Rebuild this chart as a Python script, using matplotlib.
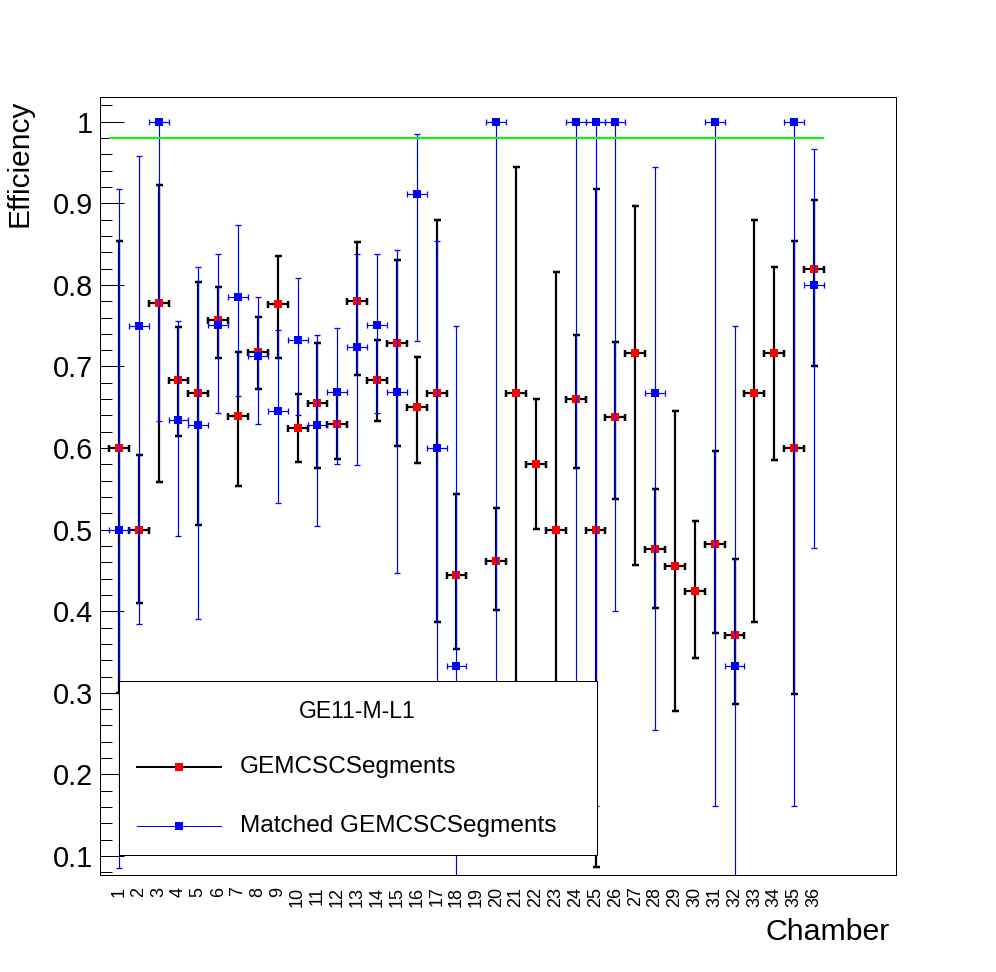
import numpy as np
import matplotlib
matplotlib.use("Agg")
import matplotlib.pyplot as plt
from matplotlib.ticker import MultipleLocator, FixedLocator, FuncFormatter
from matplotlib.patches import Rectangle

plt.rcParams['font.family'] = ['Liberation Sans', 'DejaVu Sans']

# ---------------- data ----------------
chambers = list(range(1, 37))
tick_labels = [str(c) for c in chambers]

nan = np.nan
# GEMCSCSegments (black bars, red markers)
seg_eff = [0.600, 0.500, 0.778, 0.684, 0.667, 0.757, 0.639, 0.718, 0.777, 0.625,
           0.655, 0.630, 0.780, 0.684, 0.729, 0.650, 0.667, 0.444, nan, 0.462,
           0.667, 0.580, 0.500, 0.660, 0.500, 0.638, 0.716, 0.476, 0.455, 0.425,
           0.483, 0.371, 0.667, 0.716, 0.600, 0.820]
seg_up = [0.854, 0.592, 0.922, 0.748, 0.804, 0.797, 0.718, 0.761, 0.835, 0.666,
          0.729, 0.666, 0.852, 0.732, 0.831, 0.711, 0.880, 0.544, nan, 0.527,
          0.945, 0.660, 0.816, 0.739, 0.918, 0.730, 0.897, 0.550, 0.646, 0.510,
          0.597, 0.464, 0.880, 0.822, 0.854, 0.904]
seg_lo = [0.300, 0.410, 0.559, 0.615, 0.506, 0.710, 0.553, 0.672, 0.710, 0.583,
          0.575, 0.587, 0.689, 0.633, 0.602, 0.582, 0.387, 0.354, nan, 0.401,
          0.250, 0.501, 0.184, 0.575, 0.086, 0.537, 0.457, 0.404, 0.278, 0.343,
          0.373, 0.286, 0.387, 0.585, 0.299, 0.700]

# Matched GEMCSCSegments (blue)
match_eff = [0.500, 0.750, 1.000, 0.634, 0.628, 0.751, 0.785, 0.713, 0.645, 0.732,
             0.628, 0.669, 0.724, 0.751, 0.669, 0.911, 0.600, 0.333, nan, 1.000,
             nan, nan, nan, 1.000, 1.000, 1.000, nan, 0.667, nan, nan,
             1.000, 0.333, nan, nan, 1.000, 0.800]
match_up = [0.917, 0.958, 1.000, 0.756, 0.822, 0.838, 0.873, 0.785, 0.745, 0.808,
            0.738, 0.747, 0.838, 0.838, 0.843, 0.985, 0.854, 0.749, nan, 1.000,
            nan, nan, nan, 1.000, 1.000, 1.000, nan, 0.944, nan, nan,
            1.000, 0.749, nan, nan, 1.000, 0.967]
match_lo = [0.085, 0.384, 0.633, 0.492, 0.391, 0.643, 0.664, 0.629, 0.533, 0.640,
            0.504, 0.580, 0.579, 0.643, 0.447, 0.731, 0.300, 0.060, nan, 0.161,
            nan, nan, nan, 0.161, 0.161, 0.400, nan, 0.254, nan, nan,
            0.161, 0.060, nan, nan, 0.161, 0.477]

target = 0.98
legend_title = "GE11-M-L1"
series_labels = ["GEMCSCSegments", "Matched GEMCSCSegments"]

# ---------------- figure ----------------
W, H = 996, 972
fig = plt.figure(figsize=(W / 100, H / 100), dpi=100)
ax = fig.add_axes([0.1, 0.1, 0.8, 0.8])

x = np.array(chambers, dtype=float)
se = np.array(seg_eff); su = np.array(seg_up); sl = np.array(seg_lo)
me = np.array(match_eff); mu = np.array(match_up); ml = np.array(match_lo)

px = 0.72  # points per pixel

# GEMCSCSegments: black error bars, red squares
ax.errorbar(x, se, yerr=[se - sl, su - se], xerr=0.5, fmt='none',
            ecolor='black', elinewidth=2.2 * px, capsize=3.5 * px,
            capthick=2.5 * px, zorder=2)
ax.plot(x, se, 's', ms=8 * px, mfc='red', mec='red', mew=0, zorder=2.5)
# Matched: blue error bars, blue squares
ax.errorbar(x, me, yerr=[me - ml, mu - me], xerr=0.5, fmt='none',
            ecolor='blue', elinewidth=1.2 * px, capsize=2.8 * px,
            capthick=1.3 * px, zorder=3)
ax.plot(x, me, 's', ms=8 * px, mfc='blue', mec='blue', mew=0, zorder=3.5)

ax.hlines(target, 0.5, 36.5, color='#00ff00', lw=2 * px, zorder=5)

ax.set_xlim(0.03, 40.15)
ax.set_ylim(0.077, 1.030)

ax.xaxis.set_major_locator(FixedLocator(chambers))
ax.set_xticklabels(tick_labels, rotation=90, fontsize=13)
ax.tick_params(axis='x', length=0, pad=8.5)

ax.yaxis.set_major_locator(MultipleLocator(0.1))
ax.yaxis.set_minor_locator(MultipleLocator(0.02))
ax.yaxis.set_major_formatter(FuncFormatter(lambda v, p: f"{round(v, 2):g}"))
ax.tick_params(axis='y', which='major', direction='in', length=24 * px,
               width=1 * px, labelsize=20.8, pad=4.7, right=False)
ax.tick_params(axis='y', which='minor', direction='in', length=12 * px,
               width=1 * px, right=False)
for s in ax.spines.values():
    s.set_linewidth(1 * px)


def fpx(xp, yp):
    return xp / W, 1 - yp / H


# axis titles
fig.text(*fpx(28, 100), "Efficiency", rotation=90, rotation_mode='anchor',
         ha='right', va='baseline', fontsize=21.5)
fig.text(*fpx(890, 940), "Chamber", ha='right', va='baseline', fontsize=21.8)

# legend (drawn manually to match the ROOT layout)
lx0, ly0 = fpx(119.3, 855)
lx1, ly1 = fpx(597.3, 680.7)
ax.add_patch(Rectangle((lx0, ly0), lx1 - lx0, ly1 - ly0, transform=fig.transFigure,
                       facecolor='white', edgecolor='black', lw=1 * px,
                       zorder=10, clip_on=False))
ax.text(*fpx(357.5, 711.5), legend_title, transform=fig.transFigure, ha='center',
        va='center', fontsize=16.6, zorder=12)
for yy, col, mcol, lw, lab in [(767, 'black', 'red', 2, series_labels[0]),
                               (826, 'blue', 'blue', 1, series_labels[1])]:
    a = fpx(137.3, yy); b = fpx(221, yy); m = fpx(179, yy)
    ax.plot([a[0], b[0]], [a[1], b[1]], color=col, lw=lw * px,
            transform=fig.transFigure, clip_on=False, zorder=11)
    ax.plot([m[0]], [m[1]], 's', ms=8 * px, mfc=mcol, mec=mcol, mew=0,
            transform=fig.transFigure, clip_on=False, zorder=12)
    ax.text(*fpx(239.5, yy), lab, transform=fig.transFigure, ha='left',
            va='center', fontsize=17.6, zorder=12)

fig.savefig("out.png", dpi=100)
